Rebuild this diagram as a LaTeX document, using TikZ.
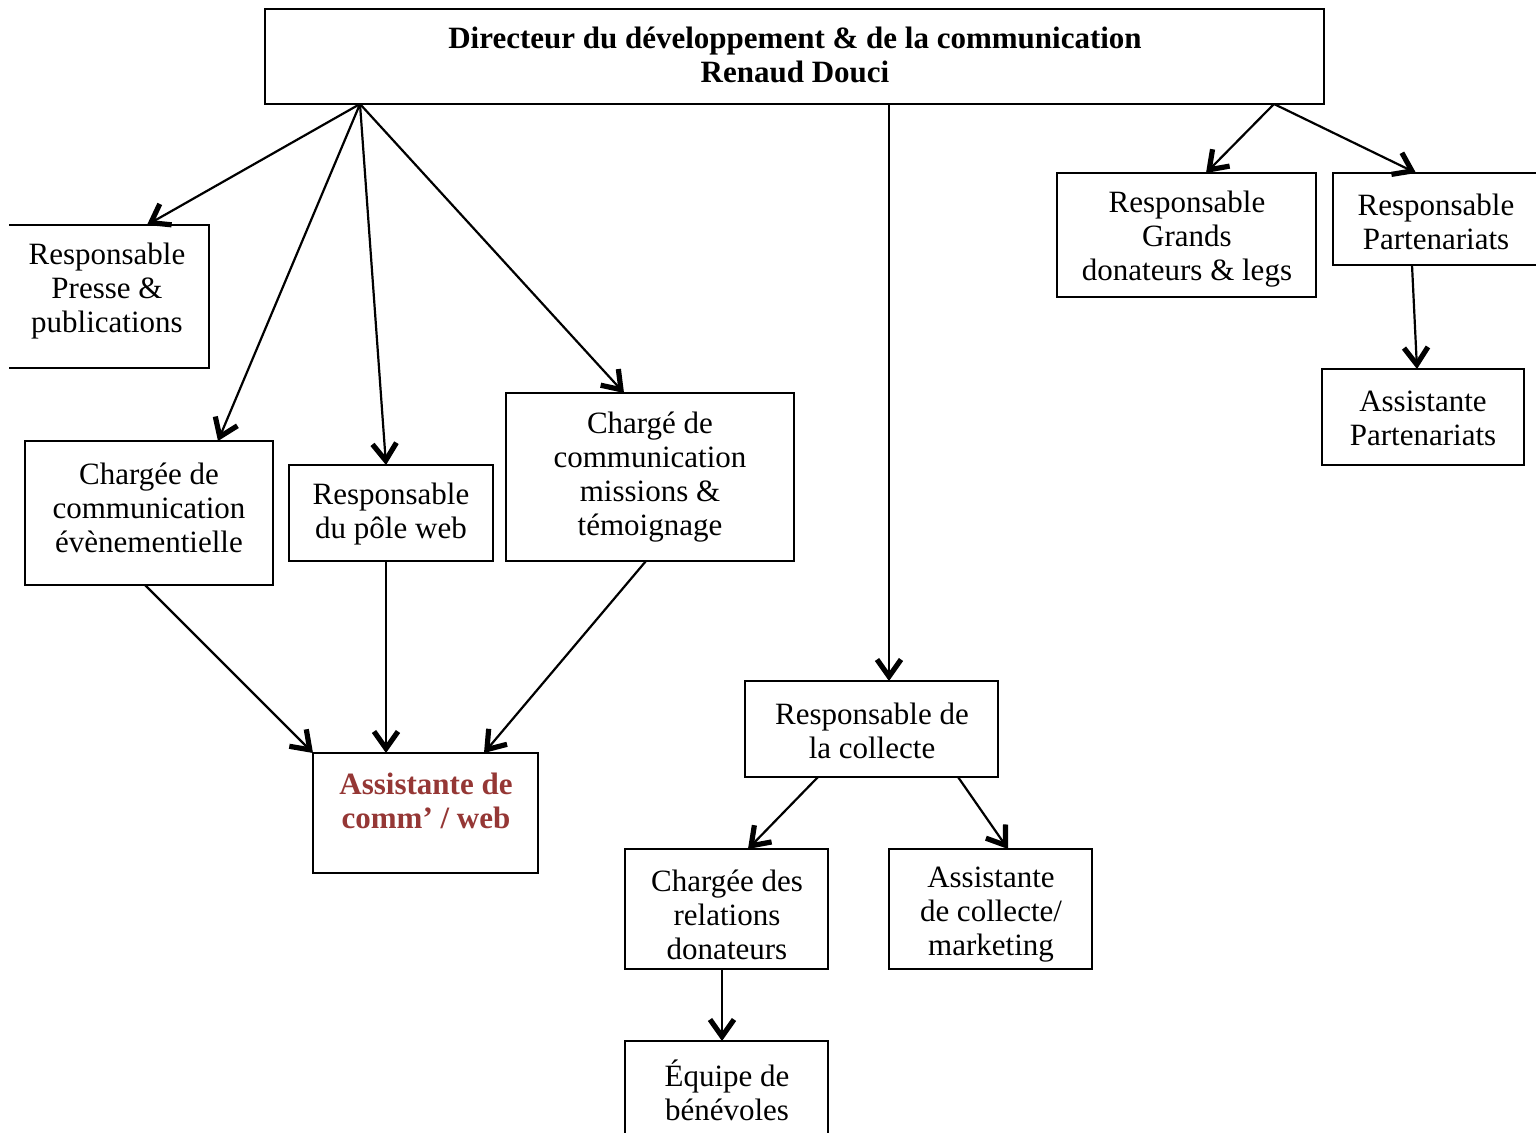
\documentclass[tikz,border=0pt]{standalone}
\usepackage{fontspec}
\setmainfont{Liberation Serif}
\usetikzlibrary{arrows.meta}
\definecolor{accred}{RGB}{149,55,53}
\newcommand\mkbox[6][]{\node[box,#1,minimum width={(#5-#3)*0.5pt}, minimum height={(#6-#4)*0.5pt}] (#2) at ({(#3+#5)/2},{(#4+#6)/2}) {};}
\begin{document}
\begin{tikzpicture}[x=0.5pt,y=-0.5pt,
  box/.style={draw, line width=1.1pt, inner sep=0pt, outer sep=0pt, rectangle},
  nobox/.style={draw=none},
  txt/.style={align=center, font=\fontsize{15.5}{17}\selectfont, inner sep=0pt},
  btxt/.style={txt, font=\fontsize{15.5}{17}\selectfont\bfseries},
  conn/.style={line width=1.1pt, -{Straight Barb[length=8.5pt,width=12pt,line width=2.6pt]}}]
\useasboundingbox (0,0) rectangle (1536,1133);
% boxes
\mkbox{top}{265}{9}{1324}{104}
\mkbox[nobox]{presse}{9}{225}{209}{368}
\draw[line width=1.1pt] (presse.north west) -- (presse.north east) -- (presse.south east) -- (presse.south west);
\mkbox{ev}{25}{441}{273}{585}
\mkbox{web}{289}{465}{493}{561}
\mkbox{miss}{506}{393}{794}{561}
\mkbox{acw}{313}{753}{538}{873}
\mkbox{coll}{745}{681}{998}{777}
\mkbox{crd}{625}{849}{828}{969}
\mkbox{acm}{889}{849}{1092}{969}
\mkbox{eq}{625}{1041}{828}{1145}
\mkbox{gd}{1057}{173}{1316}{297}
\mkbox{part}{1333}{173}{1545}{265}
\mkbox{apart}{1322}{369}{1524}{465}
% texts
\node[btxt] (t-top) at (795,55) {Directeur du développement \& de la communication\\Renaud Douci};
\node[txt] (t-presse) at (107,291) {Responsable\\Presse \&\\publications};
\node[txt] (t-ev) at (149,508) {Chargée de\\communication\\évènementielle};
\node[txt] (t-web) at (391,514) {Responsable\\du pôle web};
\node[txt] (t-miss) at (650,477) {Chargé de\\communication\\missions \&\\témoignage};
\node[btxt, text=accred] (t-acw) at (426,801) {Assistante de\\comm’ / web};
\node[txt] (t-coll) at (872,731) {Responsable de\\la collecte};
\node[txt] (t-crd) at (727,915) {Chargée des\\relations\\donateurs};
\node[txt] (t-acm) at (991,915) {Assistante\\de collecte/\\marketing};
\node[txt] (t-eq) at (727,1090) {Équipe de\\bénévoles};
\node[txt] (t-gd) at (1187,239) {Responsable\\Grands\\donateurs \& legs};
\node[txt] (t-part) at (1436,222) {Responsable\\Partenariats};
\node[txt] (t-apart) at (1423,418) {Assistante\\Partenariats};
% connectors
\draw[conn] (360,0 |- top.south) -- (147,0 |- presse.north);
\draw[conn] (360,0 |- top.south) -- (218,0 |- ev.north);
\draw[conn] (360,0 |- top.south) -- (386,0 |- web.north);
\draw[conn] (360,0 |- top.south) -- (624,0 |- miss.north);
\draw[conn] (889,0 |- top.south) -- (889,0 |- coll.north);
\draw[conn] (1274,0 |- top.south) -- (1206,0 |- gd.north);
\draw[conn] (1274,0 |- top.south) -- (1416,0 |- part.north);
\draw[conn] (1412,0 |- part.south) -- (1417,0 |- apart.north);
\draw[conn] (145,0 |- ev.south) -- (acw.north west);
\draw[conn] (386,0 |- web.south) -- (386,0 |- acw.north);
\draw[conn] (646,0 |- miss.south) -- (484,0 |- acw.north);
\draw[conn] (818,0 |- coll.south) -- (748,0 |- crd.north);
\draw[conn] (958,0 |- coll.south) -- (1008,0 |- acm.north);
\draw[conn] (722,0 |- crd.south) -- (722,0 |- eq.north);
\end{tikzpicture}
\end{document}
